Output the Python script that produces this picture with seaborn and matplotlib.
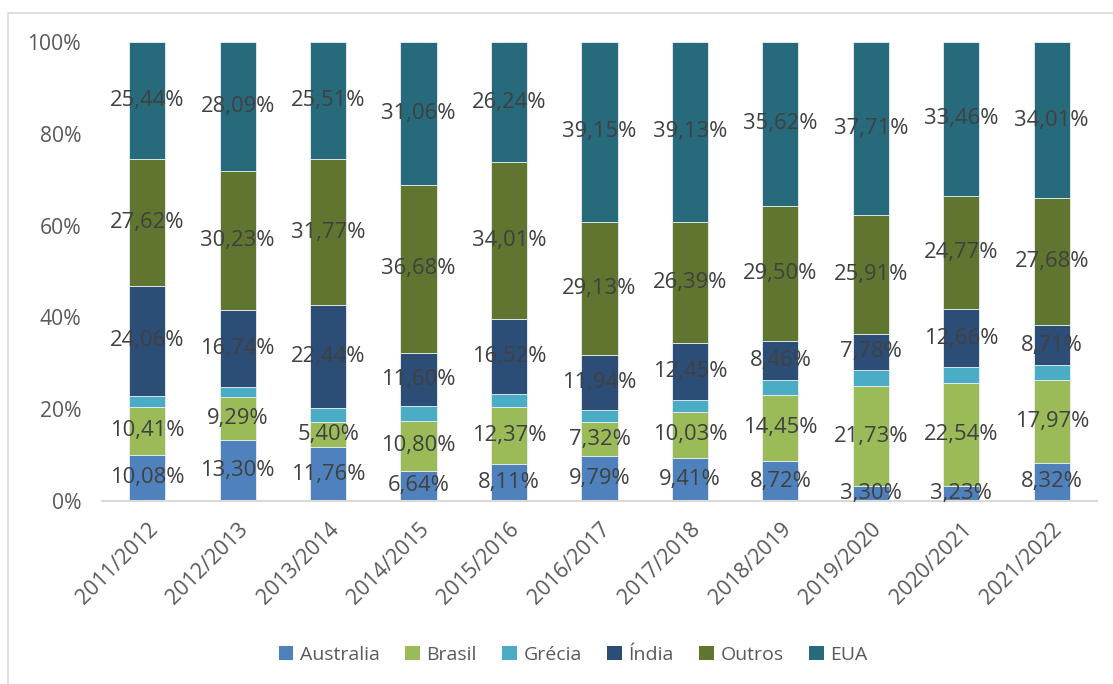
import numpy as np
import pandas as pd
import matplotlib
matplotlib.use("Agg")
import matplotlib.pyplot as plt
from matplotlib.lines import Line2D
from matplotlib.patches import Patch
import seaborn as sns

# Market share by season (%)
seasons = ["2011/2012", "2012/2013", "2013/2014", "2014/2015", "2015/2016",
           "2016/2017", "2017/2018", "2018/2019", "2019/2020", "2020/2021",
           "2021/2022"]
australia = [10.08, 13.30, 11.76, 6.64, 8.11, 9.79, 9.41, 8.72, 3.30, 3.23, 8.32]
brasil = [10.41, 9.29, 5.40, 10.80, 12.37, 7.32, 10.03, 14.45, 21.73, 22.54, 17.97]
grecia = [2.39, 2.35, 3.12, 3.22, 2.75, 2.67, 2.59, 3.25, 3.57, 3.34, 3.31]
india = [24.06, 16.74, 22.44, 11.60, 16.52, 11.94, 12.45, 8.46, 7.78, 12.66, 8.71]
outros = [27.62, 30.23, 31.77, 36.68, 34.01, 29.13, 26.39, 29.50, 25.91, 24.77, 27.68]
eua = [25.44, 28.09, 25.51, 31.06, 26.24, 39.15, 39.13, 35.62, 37.71, 33.46, 34.01]

series_names = ["Australia", "Brasil", "Grécia", "Índia", "Outros", "EUA"]
series_values = [australia, brasil, grecia, india, outros, eua]
series_colors = ["#4F81BD", "#9BBB59", "#4BACC6", "#2C4D75", "#5F7530", "#276A7C"]
labelled = [True, True, False, True, True, True]

sns.set_theme(style="white")
plt.rcParams["font.family"] = ["Open Sans", "DejaVu Sans"]

fig = plt.figure(figsize=(11.13, 6.84), dpi=100)
ax = fig.add_axes([0.0916, 0.2675, 0.894, 0.6711])

df = pd.DataFrame({"season": seasons})
bottom = np.zeros(len(seasons))
for name, vals, color, show in zip(series_names, series_values, series_colors, labelled):
    share = np.array(vals) / 100.0
    df["share"] = share
    sns.barplot(data=df, x="season", y="share", bottom=bottom, color=color,
                width=0.4, edgecolor="#E8EEF4", linewidth=0.6, ax=ax,
                saturation=1, err_kws={"linewidth": 0})
    if show:
        cont = ax.containers[-1]
        ax.bar_label(cont, labels=[f"{v:.2f}%".replace(".", ",") for v in vals],
                     label_type="center", fontsize=15.8, color="#404040")
    bottom = bottom + share

ax.set_xlim(-0.5, len(seasons) - 0.5)
ax.set_ylim(0, 1)
ax.set_yticks(np.arange(0, 1.01, 0.2))
ax.set_yticklabels([f"{int(round(t * 100))}%" for t in np.arange(0, 1.01, 0.2)])
ax.set_xlabel("")
ax.set_ylabel("")

for s in ["top", "right", "left"]:
    ax.spines[s].set_visible(False)
ax.spines["bottom"].set_color("#D9D9D9")
ax.spines["bottom"].set_linewidth(1.5)

ax.tick_params(axis="y", length=0, pad=15, labelsize=15.2, labelcolor="#595959")
ax.tick_params(axis="x", length=0, pad=13, labelsize=15.5, labelcolor="#595959")
for lbl in ax.get_xticklabels():
    lbl.set_rotation(45)
    lbl.set_ha("right")
    lbl.set_rotation_mode("anchor")

handles = [Patch(facecolor=c, edgecolor="none") for c in series_colors]
fig.legend(handles, series_names, loc="center", bbox_to_anchor=(0.515, 0.043),
           ncol=6, frameon=False, fontsize=14, labelcolor="#595959",
           handlelength=0.75, handleheight=0.75, handletextpad=0.35,
           columnspacing=1.3)

# chart-area border (top and left edges)
W, H = 1113, 684
fig.add_artist(Line2D([8 / W, 1.0], [1 - 13 / H, 1 - 13 / H],
                      color="#D9D9D9", linewidth=1.2, transform=fig.transFigure))
fig.add_artist(Line2D([8 / W, 8 / W], [0.0, 1 - 13 / H],
                      color="#D9D9D9", linewidth=1.2, transform=fig.transFigure))

fig.savefig("out.png", dpi=100, facecolor="white")
